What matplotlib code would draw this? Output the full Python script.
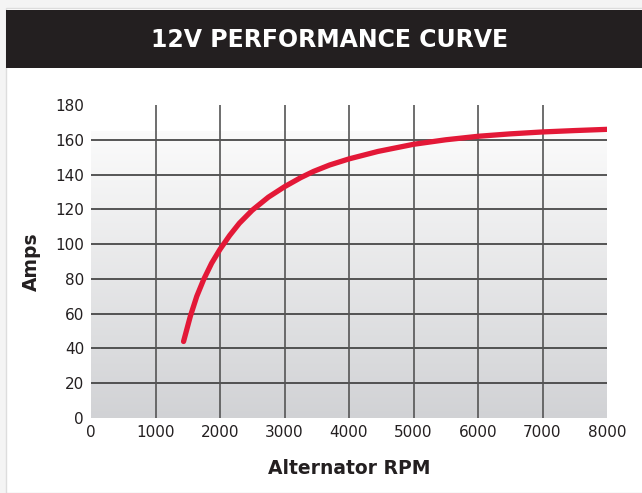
import numpy as np
import matplotlib.pyplot as plt
from matplotlib.patches import Rectangle

# curve
rpm = [1435, 1540, 1640, 1745, 1870, 2000, 2150, 2300, 2500, 2750,
       3000, 3250, 3450, 3700, 4000, 4450, 5000, 5500, 6000, 6500,
       7000, 7500, 8000]
amps = [44, 58.5, 70, 79.5, 89, 97, 105, 112, 119.5, 127,
        133, 138.2, 141.8, 145.5, 149, 153.3, 157.4, 160, 162, 163.4,
        164.5, 165.3, 166]

x_ticks = [0, 1000, 2000, 3000, 4000, 5000, 6000, 7000, 8000]
y_ticks = [0, 20, 40, 60, 80, 100, 120, 140, 160, 180]

W, H = 642, 493
fig = plt.figure(figsize=(W / 100, H / 100), dpi=100)
fig.patch.set_facecolor('#f4f4f4')

# white card and dark title bar
fig.patches.append(Rectangle((6 / W, 0), 1, 1 - 8 / H, transform=fig.transFigure,
                             facecolor='white', edgecolor='#dddddd', lw=1, zorder=-3))
fig.patches.append(Rectangle((6 / W, 1 - 68 / H), 1, 58 / H, transform=fig.transFigure,
                             facecolor='#231f20', edgecolor='none', zorder=-2))
fig.text(330 / W, 1 - 40 / H, '12V PERFORMANCE CURVE', color='white',
         fontsize=17, fontweight='heavy', ha='center', va='center')

ax = fig.add_axes([91 / W, 1 - 418 / H, 516 / W, 313 / H])
ax.set_xlim(0, 8000)
ax.set_ylim(0, 180)
ax.patch.set_alpha(0)

# grey gradient background below ~165 A
grad = np.linspace(0, 1, 256).reshape(-1, 1)
top = np.array([0.985, 0.985, 0.985])
bot = np.array([0.82, 0.824, 0.835])
img = top + (bot - top) * grad[:, :, None] * np.ones((1, 1, 3))
ax.imshow(img, extent=[0, 8000, 0, 165], aspect='auto', zorder=0)

for y in y_ticks[1:-1]:
    ax.plot([0, 8000], [y, y], color='#3a3a3a', lw=1.2, zorder=1)
for x in x_ticks[1:-1]:
    ax.plot([x, x], [0, 180], color='#555555', lw=1.2, zorder=1)

ax.plot(rpm, amps, color='#e31837', lw=3.8, solid_capstyle='round',
        solid_joinstyle='round', zorder=3)

for s in ax.spines.values():
    s.set_visible(False)
ax.set_xticks(x_ticks)
ax.set_yticks(y_ticks)
ax.tick_params(length=0, labelsize=11, labelcolor='#231f20', pad=5)
ax.set_xlabel('Alternator RPM', fontsize=13.5, fontweight='bold', color='#231f20', labelpad=14)
ax.set_ylabel('Amps', fontsize=13.5, fontweight='bold', color='#231f20', labelpad=10)

fig.savefig('out.png', dpi=100)
